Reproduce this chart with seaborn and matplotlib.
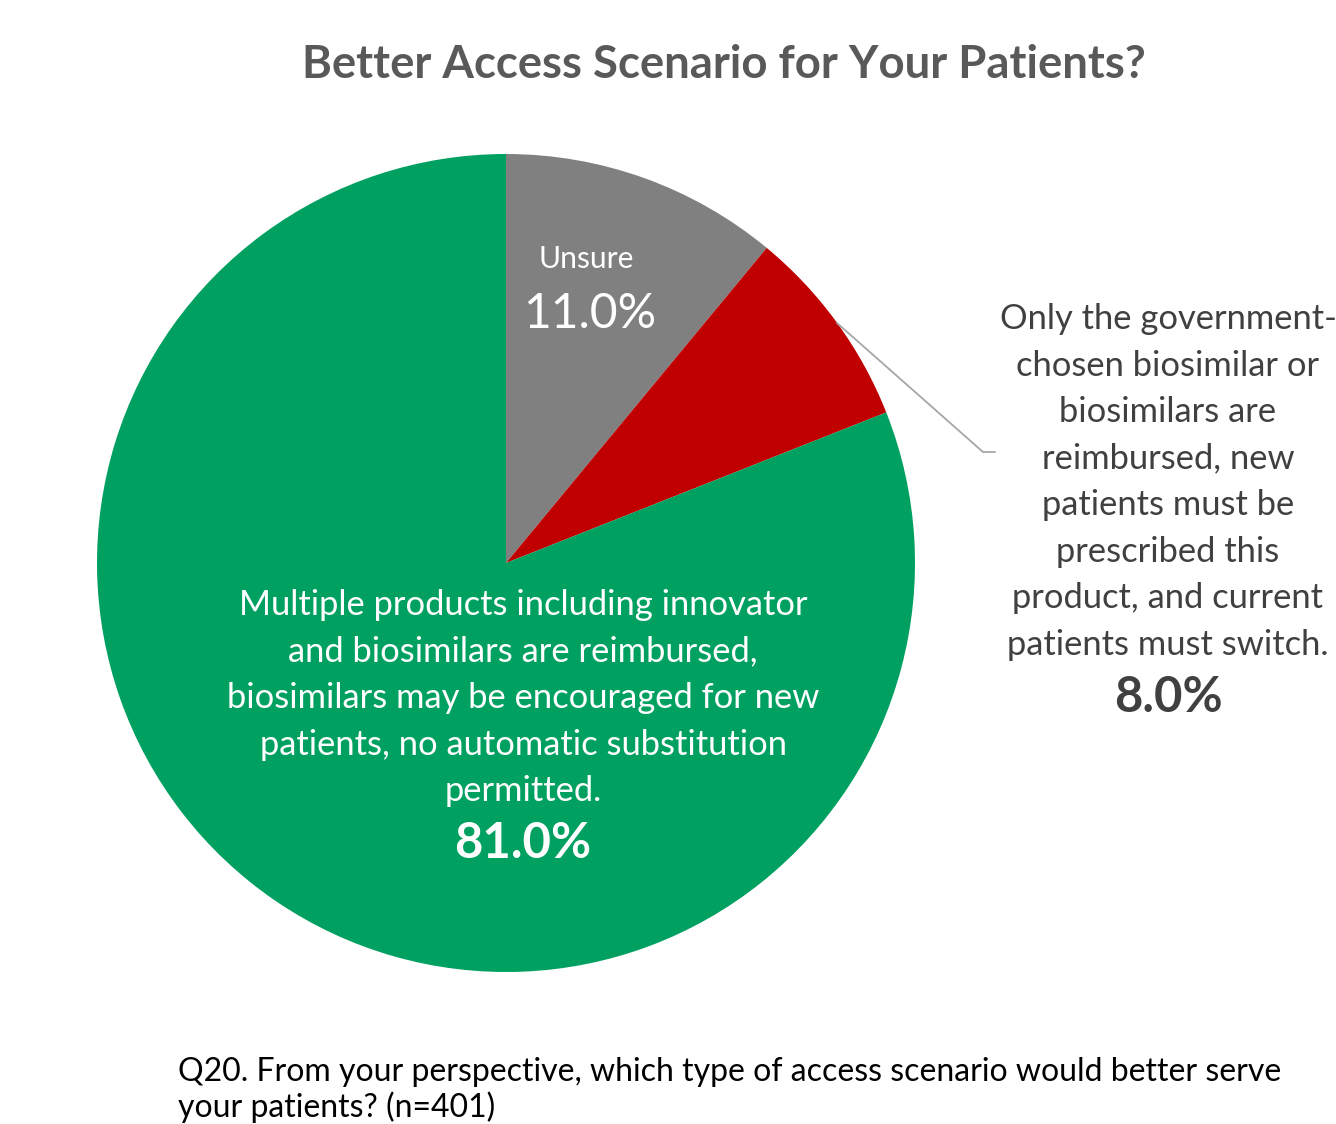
import matplotlib
matplotlib.use("Agg")
import matplotlib.pyplot as plt
import seaborn as sns

# Survey responses (n=401)
categories = [
    "Unsure",
    "Only the government-\nchosen biosimilar or\nbiosimilars are\nreimbursed, new\npatients must be\nprescribed this\nproduct, and current\npatients must switch.",
    "Multiple products including innovator\nand biosimilars are reimbursed,\nbiosimilars may be encouraged for new\npatients, no automatic substitution\npermitted.",
]
shares = [11.0, 8.0, 81.0]
colors = ["#808080", "#C00000", "#00A060"]

title = "Better Access Scenario for Your Patients?"
footnote = "Q20. From your perspective, which type of access scenario would better serve\nyour patients? (n=401)"

sns.set_theme(style="white")
plt.rcParams["font.family"] = ["Lato", "DejaVu Sans"]

W, H = 1336, 1124
fig = plt.figure(figsize=(W / 100, H / 100), dpi=100)
ax = fig.add_axes([0, 0, 1, 1])

cx, cy, r = 506, H - 563, 409
ax.pie(shares, colors=colors, startangle=90, counterclock=False,
       center=(cx, cy), radius=r, wedgeprops=dict(linewidth=0))
ax.set_xlim(0, W)
ax.set_ylim(0, H)
ax.set_aspect("equal")
ax.axis("off")

def px(v):
    return v * 0.72

# Title
ax.text(724, H - 65, title, ha="center", va="center", fontsize=px(45.5),
        fontweight="bold", color="#595959")

# Unsure label
ax.text(586, H - 259, categories[0], ha="center", va="center",
        fontsize=px(30), color="white")
ax.text(590, H - 314, f"{shares[0]:.1f}%", ha="center", va="center",
        fontsize=px(48), color="white")

# Government-chosen label with leader line
ax.plot([837, 983, 995], [H - 323, H - 452, H - 452], color="#A6A6A6", lw=1.3)
ax.text(1168, H - 482, categories[1], ha="center", va="center",
        fontsize=px(34.5), color="#404040", linespacing=1.56)
ax.text(1168, H - 697, f"{shares[1]:.1f}%", ha="center", va="center",
        fontsize=px(49), fontweight="bold", color="#404040")

# Multiple products label
ax.text(523, H - 698, categories[2], ha="center", va="center",
        fontsize=px(34.5), color="white", linespacing=1.56)
ax.text(523, H - 843, f"{shares[2]:.1f}%", ha="center", va="center",
        fontsize=px(49), fontweight="bold", color="white")

# Question footnote
ax.text(178, H - 1090, footnote, ha="left", va="center",
        fontsize=px(32), color="black", linespacing=1.15)

fig.savefig("out.png", dpi=100)
